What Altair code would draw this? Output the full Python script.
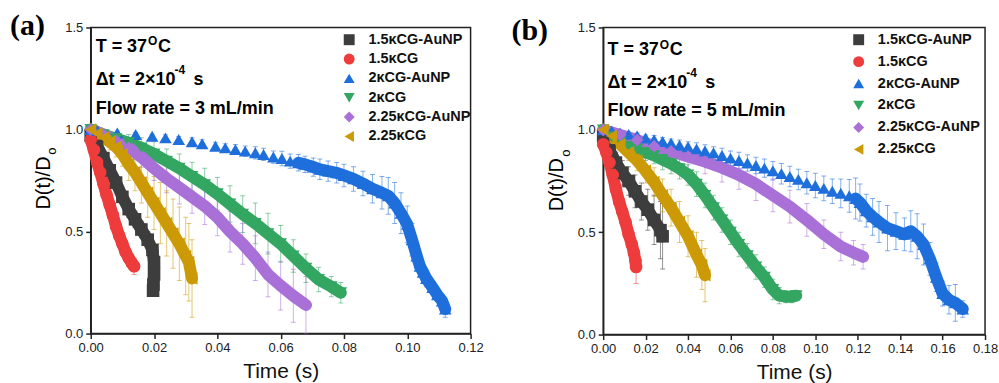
import altair as alt
import pandas as pd

SERIES = ["1.5κCG-AuNP", "1.5κCG", "2κCG-AuNP", "2κCG", "2.25κCG-AuNP", "2.25κCG"]
COLORS = ["#3d3d3d", "#ee3b3b", "#1e6fdc", "#33a661", "#a970d8", "#cc9a06"]
SHAPES = ["square", "circle", "triangle-up", "triangle-down", "diamond", "triangle-left"]

X_TICKS_A = [0.0, 0.02, 0.04, 0.06, 0.08, 0.10, 0.12]
X_TICKS_B = [0.0, 0.02, 0.04, 0.06, 0.08, 0.10, 0.12, 0.14, 0.16, 0.18]
Y_TICKS = [0.0, 0.5, 1.0, 1.5]

# ---------------- panel (a): flow rate 3 mL/min ----------------
A_T_15AU = [0, 0.002, 0.004, 0.006, 0.008, 0.010, 0.012, 0.014, 0.016, 0.018, 0.0195, 0.0200, 0.0200, 0.0198, 0.0197]
A_V_15AU = [0.97, 0.92, 0.86, 0.80, 0.74, 0.67, 0.61, 0.56, 0.51, 0.46, 0.41, 0.35, 0.29, 0.24, 0.21]
A_E_15AU = [0.01, 0.02, 0.03, 0.03, 0.035, 0.035, 0.04, 0.04, 0.04, 0.04, 0.04, 0.03, 0.03, 0.02, 0.02]

A_T_15 = [0, 0.001, 0.002, 0.003, 0.004, 0.005, 0.006, 0.007, 0.008, 0.009, 0.010, 0.011, 0.012, 0.013, 0.0137]
A_V_15 = [0.95, 0.90, 0.84, 0.79, 0.735, 0.68, 0.63, 0.58, 0.525, 0.48, 0.44, 0.40, 0.37, 0.345, 0.33]
A_E_15 = [0.01, 0.015, 0.02, 0.02, 0.025, 0.025, 0.025, 0.025, 0.025, 0.025, 0.025, 0.03, 0.03, 0.03, 0.04]

A_T_2AU = [0, 0.0021, 0.0084, 0.0142, 0.0194, 0.0236, 0.0278, 0.032, 0.0352, 0.0394, 0.0425, 0.0457,
           0.0488, 0.052, 0.0546, 0.0577, 0.0604, 0.063, 0.0656, 0.0677, 0.0703, 0.0724, 0.075, 0.0777,
           0.080, 0.083, 0.086, 0.089, 0.092, 0.094, 0.096, 0.098, 0.100, 0.1015, 0.103, 0.104, 0.105,
           0.106, 0.108, 0.1095, 0.111, 0.112]
A_V_2AU = [1.0, 0.996, 0.983, 0.976, 0.967, 0.959, 0.951, 0.94, 0.93, 0.918, 0.91, 0.902,
           0.894, 0.886, 0.878, 0.865, 0.858, 0.845, 0.837, 0.829, 0.816, 0.805, 0.796, 0.788,
           0.775, 0.758, 0.735, 0.71, 0.69, 0.675, 0.64, 0.59, 0.535, 0.46, 0.38, 0.33, 0.30,
           0.27, 0.225, 0.19, 0.16, 0.12]
A_E_2AU = [0.005, 0.005, 0.01, 0.01, 0.01, 0.015, 0.015, 0.02, 0.02, 0.02, 0.02, 0.025,
           0.025, 0.03, 0.03, 0.03, 0.035, 0.035, 0.04, 0.04, 0.045, 0.05, 0.05, 0.05,
           0.055, 0.06, 0.06, 0.07, 0.08, 0.09, 0.10, 0.10, 0.09, 0.08, 0.06, 0.05, 0.04,
           0.04, 0.03, 0.03, 0.03, 0.04]

A_T_2 = [0, 0.004, 0.008, 0.012, 0.016, 0.020, 0.024, 0.028, 0.032, 0.036, 0.040, 0.044, 0.048,
         0.052, 0.056, 0.060, 0.064, 0.068, 0.072, 0.076, 0.079]
A_V_2 = [1.0, 0.975, 0.955, 0.935, 0.91, 0.88, 0.845, 0.81, 0.77, 0.73, 0.685, 0.635, 0.585,
         0.54, 0.49, 0.44, 0.38, 0.32, 0.265, 0.23, 0.20]
A_E_2 = [0.01, 0.02, 0.03, 0.04, 0.05, 0.06, 0.06, 0.07, 0.07, 0.08, 0.08, 0.09, 0.09,
         0.10, 0.10, 0.09, 0.08, 0.07, 0.06, 0.05, 0.05]

A_T_225AU = [0, 0.004, 0.008, 0.012, 0.016, 0.020, 0.024, 0.028, 0.032, 0.036, 0.040, 0.044,
             0.048, 0.052, 0.056, 0.060, 0.064, 0.068]
A_V_225AU = [1.0, 0.975, 0.945, 0.91, 0.865, 0.81, 0.76, 0.715, 0.67, 0.625, 0.57, 0.50,
             0.44, 0.37, 0.29, 0.235, 0.185, 0.14]
A_E_225AU = [0.01, 0.02, 0.03, 0.04, 0.05, 0.06, 0.07, 0.08, 0.08, 0.09, 0.09, 0.10,
             0.10, 0.11, 0.11, 0.12, 0.13, 0.14]

A_T_225 = [0, 0.002, 0.004, 0.006, 0.008, 0.010, 0.012, 0.014, 0.016, 0.018, 0.020, 0.022,
           0.024, 0.026, 0.028, 0.030, 0.031, 0.032]
A_V_225 = [1.0, 0.98, 0.96, 0.94, 0.915, 0.88, 0.83, 0.79, 0.74, 0.69, 0.64, 0.59,
           0.54, 0.49, 0.44, 0.38, 0.35, 0.27]
A_E_225 = [0.01, 0.02, 0.03, 0.04, 0.05, 0.06, 0.08, 0.09, 0.10, 0.12, 0.13, 0.15,
           0.16, 0.17, 0.18, 0.19, 0.19, 0.19]

# ---------------- panel (b): flow rate 5 mL/min ----------------
B_T_15AU = [0, 0.003, 0.006, 0.009, 0.012, 0.015, 0.018, 0.021, 0.024, 0.027, 0.028]
B_V_15AU = [0.97, 0.90, 0.84, 0.79, 0.75, 0.70, 0.65, 0.61, 0.56, 0.51, 0.48]
B_E_15AU = [0.02, 0.04, 0.05, 0.06, 0.07, 0.08, 0.09, 0.10, 0.12, 0.14, 0.16]

B_T_15 = [0, 0.0015, 0.003, 0.0045, 0.006, 0.0075, 0.009, 0.0105, 0.012, 0.0135, 0.0145, 0.0152, 0.0155]
B_V_15 = [0.93, 0.89, 0.84, 0.78, 0.71, 0.65, 0.60, 0.55, 0.49, 0.44, 0.40, 0.36, 0.33]
B_E_15 = [0.01, 0.02, 0.03, 0.03, 0.04, 0.04, 0.04, 0.04, 0.04, 0.04, 0.04, 0.05, 0.08]

B_T_2AU = [0, 0.004, 0.008, 0.012, 0.016, 0.020, 0.024, 0.028, 0.032, 0.036, 0.040, 0.044, 0.048,
           0.052, 0.056, 0.060, 0.064, 0.068, 0.072, 0.076, 0.080, 0.084, 0.088, 0.092, 0.096,
           0.100, 0.104, 0.108, 0.112, 0.116, 0.119, 0.121, 0.124, 0.127, 0.130, 0.134, 0.138,
           0.142, 0.145, 0.148, 0.151, 0.154, 0.157, 0.160, 0.163, 0.166, 0.1695]
B_V_2AU = [1.0, 0.995, 0.985, 0.978, 0.97, 0.96, 0.952, 0.943, 0.935, 0.925, 0.917, 0.907, 0.897,
           0.888, 0.875, 0.862, 0.85, 0.838, 0.826, 0.813, 0.80, 0.786, 0.772, 0.758, 0.742,
           0.728, 0.714, 0.70, 0.69, 0.678, 0.665, 0.645, 0.605, 0.575, 0.55, 0.52, 0.505,
           0.49, 0.505, 0.48, 0.44, 0.37, 0.28, 0.20, 0.17, 0.155, 0.125]
B_E_2AU = [0.005, 0.01, 0.01, 0.01, 0.015, 0.015, 0.02, 0.02, 0.02, 0.025, 0.025, 0.03, 0.03,
           0.03, 0.035, 0.035, 0.04, 0.04, 0.04, 0.045, 0.045, 0.05, 0.05, 0.05, 0.055,
           0.06, 0.06, 0.06, 0.07, 0.08, 0.10, 0.09, 0.08, 0.09, 0.10, 0.11, 0.09,
           0.08, 0.10, 0.11, 0.10, 0.08, 0.07, 0.06, 0.07, 0.09, 0.04]

B_T_2 = [0, 0.004, 0.008, 0.012, 0.016, 0.020, 0.024, 0.028, 0.032, 0.036, 0.040, 0.044, 0.048,
         0.052, 0.056, 0.060, 0.064, 0.068, 0.072, 0.076, 0.080, 0.083, 0.086, 0.089, 0.091]
B_V_2 = [1.0, 0.965, 0.94, 0.92, 0.905, 0.89, 0.875, 0.855, 0.835, 0.81, 0.78, 0.735, 0.68,
         0.62, 0.56, 0.50, 0.44, 0.385, 0.33, 0.28, 0.22, 0.19, 0.185, 0.185, 0.19]
B_E_2 = [0.01, 0.02, 0.03, 0.03, 0.04, 0.04, 0.04, 0.05, 0.05, 0.05, 0.05, 0.06, 0.06,
         0.06, 0.06, 0.06, 0.06, 0.06, 0.06, 0.05, 0.05, 0.04, 0.03, 0.03, 0.02]

B_T_225AU = [0, 0.008, 0.016, 0.024, 0.032, 0.040, 0.048, 0.056, 0.064, 0.072, 0.080, 0.088,
             0.096, 0.104, 0.112, 0.118, 0.1225]
B_V_225AU = [1.0, 0.975, 0.95, 0.92, 0.895, 0.87, 0.845, 0.815, 0.78, 0.735, 0.68, 0.625,
             0.56, 0.49, 0.43, 0.40, 0.38]
B_E_225AU = [0.01, 0.02, 0.03, 0.04, 0.05, 0.06, 0.06, 0.07, 0.07, 0.08, 0.08, 0.08,
             0.08, 0.07, 0.07, 0.06, 0.06]

B_T_225 = [0, 0.004, 0.008, 0.012, 0.016, 0.020, 0.024, 0.028, 0.032, 0.036, 0.040, 0.044, 0.0465, 0.048]
B_V_225 = [1.0, 0.97, 0.93, 0.89, 0.85, 0.80, 0.745, 0.68, 0.62, 0.55, 0.48, 0.39, 0.34, 0.29]
B_E_225 = [0.01, 0.02, 0.03, 0.04, 0.05, 0.06, 0.07, 0.08, 0.09, 0.10, 0.10, 0.11, 0.12, 0.13]

A_T = [A_T_15AU, A_T_15, A_T_2AU, A_T_2, A_T_225AU, A_T_225]
A_V = [A_V_15AU, A_V_15, A_V_2AU, A_V_2, A_V_225AU, A_V_225]
A_E = [A_E_15AU, A_E_15, A_E_2AU, A_E_2, A_E_225AU, A_E_225]
B_T = [B_T_15AU, B_T_15, B_T_2AU, B_T_2, B_T_225AU, B_T_225]
B_V = [B_V_15AU, B_V_15, B_V_2AU, B_V_2, B_V_225AU, B_V_225]
B_E = [B_E_15AU, B_E_15, B_E_2AU, B_E_2, B_E_225AU, B_E_225]

# style: index from which overlapping markers form a continuous band
BAND_FROM_A = [0, 0, 18, 0, 0, 0]
BAND_FROM_B = [0, 0, 30, 0, 0, 0]

FONT = "Liberation Sans"


def build_df(ts, vs, es, band_from):
    rows = []
    for name, t, v, e, b0 in zip(SERIES, ts, vs, es, band_from):
        for k, (ti, vi, ei) in enumerate(zip(t, v, e)):
            rows.append({"series": name, "t": ti, "v": vi, "lo": max(vi - ei, 0.0),
                         "hi": vi + ei, "k": k, "band": k >= b0})
    return pd.DataFrame(rows)


def txt(s, x, y, size, weight="bold", font=FONT, angle=0, align="left", baseline="alphabetic"):
    return alt.Chart(pd.DataFrame({"s": [s]})).mark_text(
        align=align, baseline=baseline, fontSize=size, fontWeight=weight,
        font=font, angle=angle, color="black"
    ).encode(x=alt.value(x), y=alt.value(y), text="s:N")


def panel(df, xmax, xticks, w, h, lx, ly, row_pad, texts):
    xs = alt.Scale(domain=[0, xmax], nice=False, zero=False)
    ys = alt.Scale(domain=[0, 1.5], nice=False, zero=False)
    xax = alt.Axis(values=xticks, format=".2f", title="Time (s)", labelFlush=False)
    yax = alt.Axis(values=Y_TICKS, format=".1f", title=None, labelFlush=False)
    X = alt.X("t:Q", scale=xs, axis=xax)
    cscale = alt.Scale(domain=SERIES, range=COLORS)
    sscale = alt.Scale(domain=SERIES, range=SHAPES)
    leg = alt.Legend(title=None, orient="none", legendX=lx, legendY=ly, rowPadding=row_pad,
                     labelFont=FONT, labelFontSize=14.5, labelFontWeight="bold", labelColor="#111",
                     labelOffset=12, symbolSize=120, symbolStrokeWidth=0, symbolOpacity=1,
                     padding=0)
    C = alt.Color("series:N", scale=cscale, legend=leg)
    S = alt.Shape("series:N", scale=sscale, legend=leg)
    base = alt.Chart(df)
    rules = base.mark_rule(strokeWidth=1, opacity=0.55, clip=True).encode(
        x=X, y=alt.Y("lo:Q", scale=ys, axis=yax), y2="hi:Q", color=C)
    cap_lo = base.mark_tick(orient="horizontal", size=5, thickness=1, opacity=0.55, clip=True).encode(
        x=X, y=alt.Y("lo:Q", scale=ys, axis=yax), color=C)
    cap_hi = base.mark_tick(orient="horizontal", size=5, thickness=1, opacity=0.55, clip=True).encode(
        x=X, y=alt.Y("hi:Q", scale=ys, axis=yax), color=C)
    line = base.transform_filter("datum.band").mark_line(
        strokeWidth=12, strokeCap="round", strokeJoin="round").encode(
        x=X, y=alt.Y("v:Q", scale=ys, axis=yax), color=C,
        detail="series:N", order="k:Q")
    pts = base.mark_point(filled=True, size=160, opacity=1).encode(
        x=X, y=alt.Y("v:Q", scale=ys, axis=yax), color=C, shape=S)
    return alt.layer(rules, cap_lo, cap_hi, line, pts, *texts).properties(width=w, height=h)


dfa = build_df(A_T, A_V, A_E, BAND_FROM_A)
dfb = build_df(B_T, B_V, B_E, BAND_FROM_B)

texts_a = [
    txt("(a)", -81, 7.3, 30, font="Liberation Serif"),
    txt("T = 37", 5, 24.3, 18), txt("O", 57.5, 17.9, 12), txt("C", 67.5, 24.3, 18),
    txt("Δt = 2×10", 5, 57.3, 18), txt("-4", 84, 46.3, 12), txt("s", 103, 57.3, 18),
    txt("Flow rate = 3 mL/min", 5, 86.3, 18),
    txt("D(t)/D", -47, 156, 20, weight="normal", angle=270, align="center", baseline="middle"),
    txt("o", -38.5, 124, 13, weight="normal", angle=270, align="center", baseline="middle"),
]
texts_b = [
    txt("(b)", -92, 12.7, 30, font="Liberation Serif"),
    txt("T = 37", 4.3, 27.7, 18), txt("O", 56.8, 21.3, 12), txt("C", 66.8, 27.7, 18),
    txt("Δt = 2×10", 4.3, 61, 18), txt("-4", 83.3, 50, 12), txt("s", 102.3, 61, 18),
    txt("Flow rate = 5 mL/min", 4.3, 89, 18),
    txt("D(t)/D", -46, 157.7, 20, weight="normal", angle=270, align="center", baseline="middle"),
    txt("o", -37, 126, 13, weight="normal", angle=270, align="center", baseline="middle"),
]

pa = panel(dfa, 0.12, X_TICKS_A, 381, 307, 252, 5, 4.4, texts_a)
pb = panel(dfb, 0.18, X_TICKS_B, 383, 308, 249, 5, 7.0, texts_b)

chart = alt.hconcat(pa, pb, spacing=133, bounds="flush").resolve_scale(
    color="independent", shape="independent", x="independent", y="independent"
).resolve_legend(color="independent", shape="independent").properties(
    padding={"left": 9, "top": 9, "right": 0, "bottom": 0}, background="white"
).configure_view(stroke="#222", strokeWidth=1.5).configure_axis(
    grid=False, domainColor="#222", domainWidth=1.5, tickColor="#222", tickWidth=1.5,
    tickSize=5, labelFont=FONT, labelFontSize=13, labelColor="#222", labelPadding=3,
    titleFont=FONT, titleFontSize=21, titleFontWeight="normal", titleColor="#111", titlePadding=6
)

chart.save("out.html", embed_options={"renderer": "svg", "actions": False})
